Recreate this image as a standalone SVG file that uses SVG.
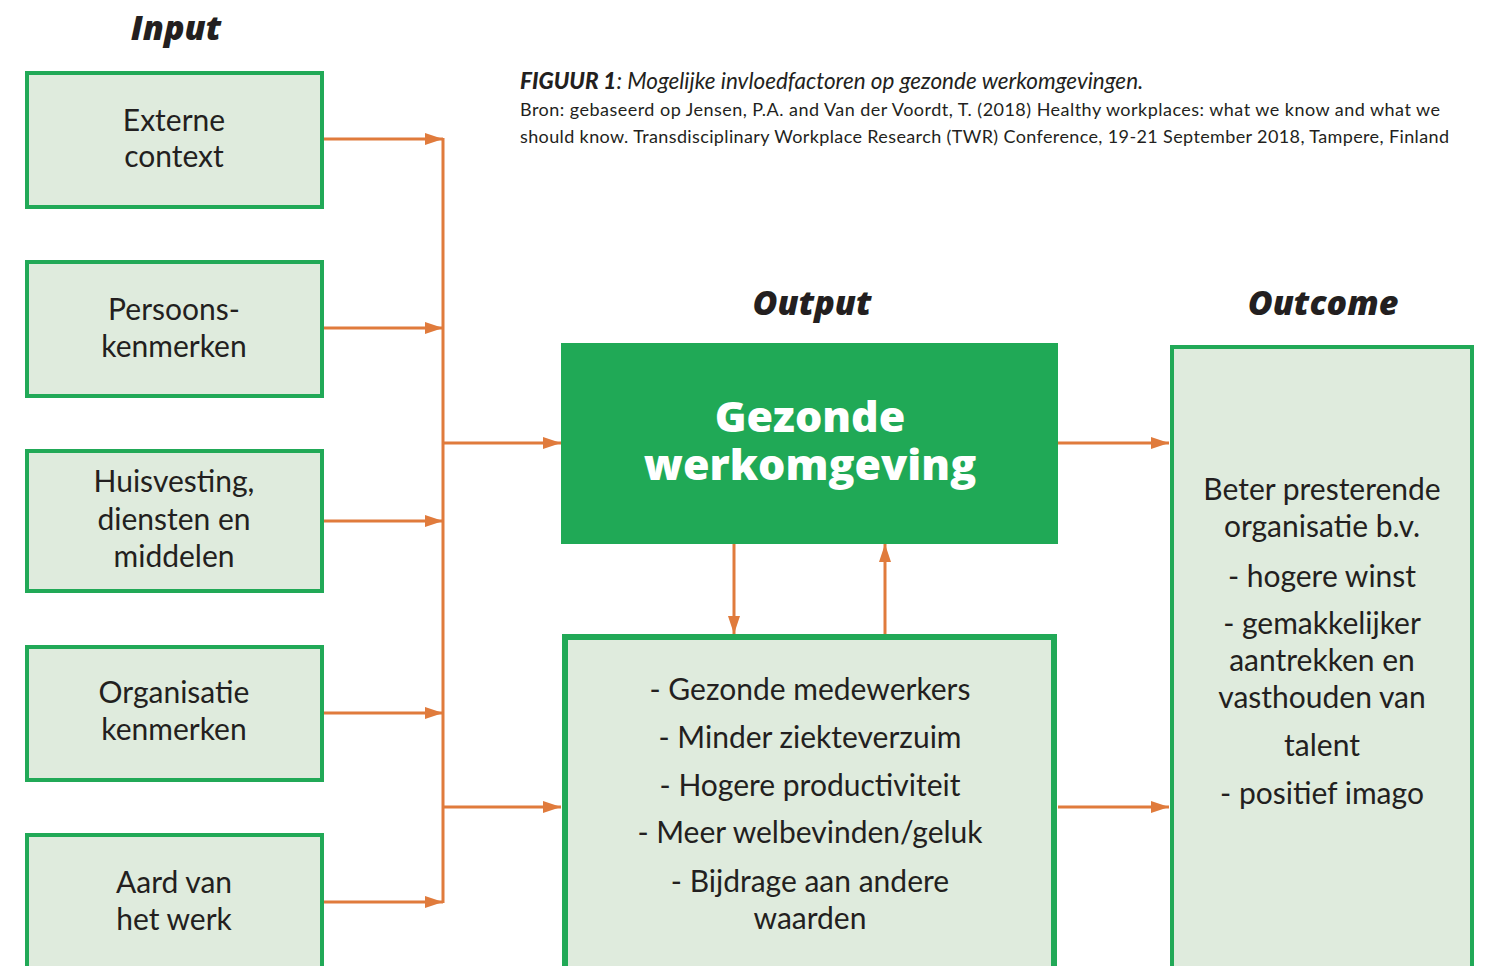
<svg xmlns="http://www.w3.org/2000/svg" width="1491" height="966" viewBox="0 0 1491 966">
<defs>
<marker id="ah" viewBox="0 0 18 12" refX="18" refY="6" markerWidth="18" markerHeight="12" markerUnits="userSpaceOnUse" orient="auto">
<path d="M0,0 L18,6 L0,12 Z" fill="#e07b3c"/>
</marker>
<style>
.box{fill:#dfebdd;stroke:#21a957;stroke-width:4}
.boxb{fill:#dfebdd;stroke:#21a957;stroke-width:6}
.main{fill:#20a956}
.t{font-family:Lato,"Liberation Sans",sans-serif;font-size:30px;fill:#231f20;text-anchor:middle}
.h{font-family:"Open Sans","Liberation Sans",sans-serif;font-weight:800;font-style:italic;font-size:34px;fill:#231f20;text-anchor:middle}
.w{font-family:"Open Sans","Liberation Sans",sans-serif;font-weight:800;font-size:43px;fill:#ffffff;text-anchor:middle}
.c{font-family:Lato,"Liberation Sans",sans-serif;fill:#231f20}
.ln{stroke:#e07b3c;stroke-width:3;fill:none}
</style>
</defs>
<rect width="1491" height="966" fill="#ffffff"/>
<text class="h" x="176" y="40">Input</text>
<text class="h" x="812" y="315">Output</text>
<text class="h" x="1323" y="315">Outcome</text>
<g id="caption">
<text class="c" x="520" y="89" font-size="22.5" font-style="italic"><tspan font-weight="900">FIGUUR 1</tspan>: Mogelijke invloedfactoren op gezonde werkomgevingen.</text>
<text class="c" x="520" y="116" font-size="18" textLength="920" lengthAdjust="spacing">Bron: gebaseerd op Jensen, P.A. and Van der Voordt, T. (2018) Healthy workplaces: what we know and what we</text>
<text class="c" x="520" y="143" font-size="18" textLength="929" lengthAdjust="spacing">should know. Transdisciplinary Workplace Research (TWR) Conference, 19-21 September 2018, Tampere, Finland</text>
</g>
<g id="n-externe">
<rect class="box" x="27" y="73" width="295" height="134"/>
<text class="t" x="174" y="131">Externe</text>
<text class="t" x="174" y="167">context</text>
</g>
<g id="n-persoons">
<rect class="box" x="27" y="262" width="295" height="134"/>
<text class="t" x="174" y="320">Persoons-</text>
<text class="t" x="174" y="357">kenmerken</text>
</g>
<g id="n-huisvesting">
<rect class="box" x="27" y="451" width="295" height="140"/>
<text class="t" x="174" y="492">Huisvesting,</text>
<text class="t" x="174" y="530">diensten en</text>
<text class="t" x="174" y="567">middelen</text>
</g>
<g id="n-organisatie">
<rect class="box" x="27" y="647" width="295" height="133"/>
<text class="t" x="174" y="703">Organisatie</text>
<text class="t" x="174" y="740">kenmerken</text>
</g>
<g id="n-aard">
<rect class="box" x="27" y="835" width="295" height="150"/>
<text class="t" x="174" y="893">Aard van</text>
<text class="t" x="174" y="930">het werk</text>
</g>
<g id="n-gezonde">
<rect class="main" x="561" y="343" width="497" height="201"/>
<text class="w" x="810" y="432">Gezonde</text>
<text class="w" x="810" y="480">werkomgeving</text>
</g>
<g id="n-effecten">
<rect class="boxb" x="565" y="637" width="489" height="350"/>
<text class="t" x="810" y="700">- Gezonde medewerkers</text>
<text class="t" x="810" y="748">- Minder ziekteverzuim</text>
<text class="t" x="810" y="796">- Hogere productiviteit</text>
<text class="t" x="810" y="843">- Meer welbevinden/geluk</text>
<text class="t" x="810" y="892">- Bijdrage aan andere</text>
<text class="t" x="810" y="929">waarden</text>
</g>
<g id="n-outcome">
<rect class="box" x="1172" y="347" width="300" height="640"/>
<text class="t" x="1322" y="500">Beter presterende</text>
<text class="t" x="1322" y="537">organisatie b.v.</text>
<text class="t" x="1322" y="587">- hogere winst</text>
<text class="t" x="1322" y="634">- gemakkelijker</text>
<text class="t" x="1322" y="671">aantrekken en</text>
<text class="t" x="1322" y="708">vasthouden van</text>
<text class="t" x="1322" y="756">talent</text>
<text class="t" x="1322" y="804">- positief imago</text>
</g>
<g id="connectors">
<line class="ln" x1="443" y1="138" x2="443" y2="903"/>
<line class="ln" x1="324" y1="139" x2="443" y2="139" marker-end="url(#ah)"/>
<line class="ln" x1="324" y1="328" x2="443" y2="328" marker-end="url(#ah)"/>
<line class="ln" x1="324" y1="521" x2="443" y2="521" marker-end="url(#ah)"/>
<line class="ln" x1="324" y1="713" x2="443" y2="713" marker-end="url(#ah)"/>
<line class="ln" x1="324" y1="902" x2="443" y2="902" marker-end="url(#ah)"/>
<line class="ln" x1="443" y1="443" x2="561" y2="443" marker-end="url(#ah)"/>
<line class="ln" x1="443" y1="807" x2="561" y2="807" marker-end="url(#ah)"/>
<line class="ln" x1="1058" y1="443" x2="1169" y2="443" marker-end="url(#ah)"/>
<line class="ln" x1="1058" y1="807" x2="1169" y2="807" marker-end="url(#ah)"/>
<line class="ln" x1="734" y1="544" x2="734" y2="634" marker-end="url(#ah)"/>
<line class="ln" x1="885" y1="634" x2="885" y2="544" marker-end="url(#ah)"/>
</g>
</svg>
